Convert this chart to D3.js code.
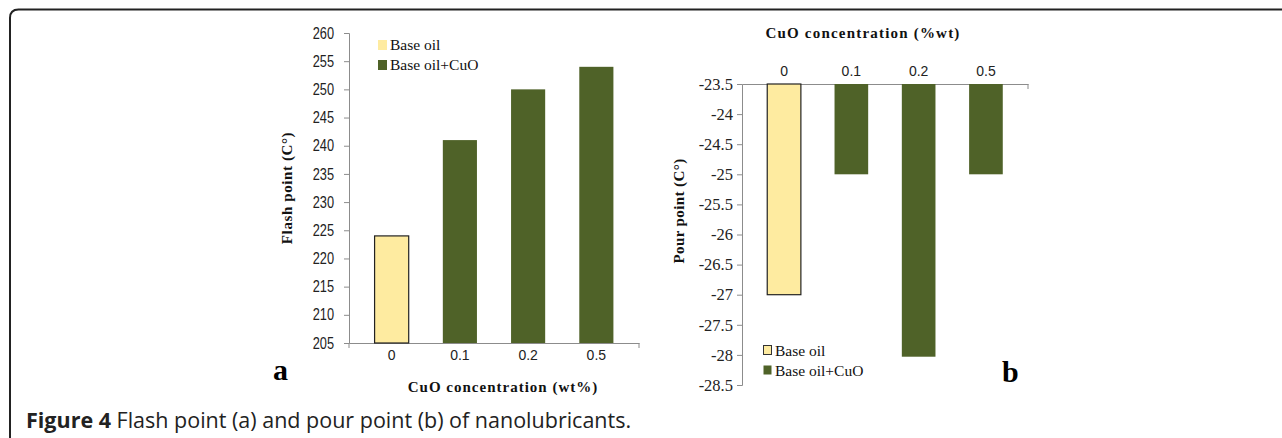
<!DOCTYPE html>
<html><head><meta charset="utf-8">
<script src="https://cdn.jsdelivr.net/npm/d3@7"></script>
<style>
html,body{margin:0;padding:0;background:#fff;}
svg{display:block;}
</style></head>
<body>
<svg id="c" width="1282" height="438"></svg>
<script>
// ---- data ----
const categories = ["0", "0.1", "0.2", "0.5"];
const seriesNames = ["Base oil", "Base oil+CuO"];
const flashPoint = [224, 241, 250, 254];
const pourPoint = [-27, -25, -28.03, -25];
const flashTicks = [205, 210, 215, 220, 225, 230, 235, 240, 245, 250, 255, 260];
const pourTicks = [-23.5, -24, -24.5, -25, -25.5, -26, -26.5, -27, -27.5, -28, -28.5];

const colBase = "#FEEBA0", colCuO = "#4F6228", axisCol = "#8c8c8c";
const svg = d3.select("#c");
const serif = "'Liberation Serif','DejaVu Serif',serif";
const sans = "'Liberation Sans','DejaVu Sans',sans-serif";

// frame
svg.append("path").attr("d", "M10,438 L10,18 Q10,9.5 18.5,9.5 L1282,9.5")
  .attr("fill", "none").attr("stroke", "#222").attr("stroke-width", 2);

function color(i){ return i === 0 ? colBase : colCuO; }

// ---- chart a ----
{
  const x = d3.scaleBand().domain(categories).range([349, 639]).paddingInner(0.5).paddingOuter(0.375);
  const y = d3.scaleLinear().domain([205, 260]).range([343, 33]);
  const g = svg.append("g");
  const ya = g.append("g").attr("transform", "translate(349,0)")
    .call(d3.axisLeft(y).tickValues(flashTicks).tickSize(5).tickPadding(4).tickFormat(d3.format("d")));
  ya.selectAll("text").attr("font-family", sans).attr("font-size", 16).attr("fill", "#222")
    .attr("transform", "scale(0.8,1)").attr("x", -15/0.8);
  const xa = g.append("g").attr("transform", "translate(0,343)")
    .call(d3.axisBottom(x).tickSize(0).tickPadding(7));
  xa.selectAll("text").attr("font-family", sans).attr("font-size", 14).attr("fill", "#222");
  g.selectAll(".et").data([349, 639]).join("line").attr("x1", d=>d).attr("x2", d=>d)
    .attr("y1", 343).attr("y2", 348).attr("stroke", axisCol);
  g.selectAll("path.domain, .tick line").attr("stroke", axisCol);
  g.selectAll("rect.bar").data(flashPoint).join("rect").attr("class", "bar")
    .attr("x", (d,i)=>x(categories[i])).attr("width", x.bandwidth())
    .attr("y", d=>y(d)).attr("height", d=>y(205)-y(d))
    .attr("fill", (d,i)=>color(i))
    .attr("stroke", (d,i)=> i===0 ? "#222" : "none").attr("stroke-width", 1.2);
  // legend
  const lg = g.append("g");
  seriesNames.forEach((s,i)=>{
    lg.append("rect").attr("x", 378).attr("y", 40 + i*20).attr("width", 9).attr("height", 10).attr("fill", color(i));
    lg.append("text").attr("x", 390).attr("y", 50 + i*20).text(s)
      .attr("font-family", serif).attr("font-size", 15.5).attr("fill", "#111");
  });
  g.append("text").attr("transform", "translate(292,188) rotate(-90)").attr("text-anchor", "middle")
    .attr("font-family", serif).attr("font-weight", "bold").attr("font-size", 15).attr("fill", "#111")
    .attr("letter-spacing", 0.6).text("Flash point (C°)");
  g.append("text").attr("x", 503).attr("y", 392).attr("text-anchor", "middle")
    .attr("font-family", serif).attr("font-weight", "bold").attr("font-size", 15).attr("fill", "#111")
    .attr("letter-spacing", 1).text("CuO concentration (wt%)");
  g.append("text").attr("x", 273).attr("y", 380)
    .attr("font-family", serif).attr("font-weight", "bold").attr("font-size", 30).attr("fill", "#000").text("a");
}

// ---- chart b ----
{
  const x = d3.scaleBand().domain(categories).range([742, 1028]).paddingInner(0.5).paddingOuter(0.375);
  const y = d3.scaleLinear().domain([-23.5, -28.5]).range([84, 385]);
  const g = svg.append("g");
  const ya = g.append("g").attr("transform", "translate(742,0)")
    .call(d3.axisLeft(y).tickValues(pourTicks).tickSize(5).tickPadding(4).tickFormat(d=>String(d)));
  ya.selectAll("text").attr("font-family", serif).attr("font-size", 16.5).attr("fill", "#222");
  const xa = g.append("g").attr("transform", "translate(0,84)")
    .call(d3.axisTop(x).tickSize(0).tickPadding(8));
  xa.selectAll("text").attr("font-family", sans).attr("font-size", 14).attr("fill", "#222");
  g.selectAll(".et").data([1028]).join("line").attr("x1", d=>d).attr("x2", d=>d)
    .attr("y1", 84).attr("y2", 89).attr("stroke", axisCol);
  g.selectAll("path.domain, .tick line").attr("stroke", axisCol);
  g.selectAll("rect.bar").data(pourPoint).join("rect").attr("class", "bar")
    .attr("x", (d,i)=>x(categories[i])).attr("width", x.bandwidth())
    .attr("y", y(-23.5)).attr("height", d=>y(d)-y(-23.5))
    .attr("fill", (d,i)=>color(i))
    .attr("stroke", (d,i)=> i===0 ? "#222" : "none").attr("stroke-width", 1.2);
  const lg = g.append("g");
  seriesNames.forEach((s,i)=>{
    lg.append("rect").attr("x", 763.5).attr("y", 345.5 + i*20).attr("width", 8).attr("height", 9)
      .attr("fill", color(i)).attr("stroke", i===0 ? "#333" : "none");
    lg.append("text").attr("x", 775).attr("y", 356 + i*20).text(s)
      .attr("font-family", serif).attr("font-size", 15.5).attr("fill", "#111");
  });
  g.append("text").attr("transform", "translate(684,211) rotate(-90)").attr("text-anchor", "middle")
    .attr("font-family", serif).attr("font-weight", "bold").attr("font-size", 15).attr("fill", "#111")
    .attr("letter-spacing", 0.4).text("Pour point (C°)");
  g.append("text").attr("x", 863).attr("y", 38).attr("text-anchor", "middle")
    .attr("font-family", serif).attr("font-weight", "bold").attr("font-size", 15).attr("fill", "#111")
    .attr("letter-spacing", 1.2).text("CuO concentration (%wt)");
  g.append("text").attr("x", 1002).attr("y", 382)
    .attr("font-family", serif).attr("font-weight", "bold").attr("font-size", 30).attr("fill", "#000").text("b");
}

// caption
const cap = svg.append("text").attr("x", 26).attr("y", 428)
  .attr("font-family", "'Open Sans',sans-serif").attr("font-size", 21.5).attr("fill", "#222");
cap.append("tspan").attr("font-weight", "bold").text("Figure 4");
cap.append("tspan").text(" Flash point (a) and pour point (b) of nanolubricants.");
</script>
</body></html>
